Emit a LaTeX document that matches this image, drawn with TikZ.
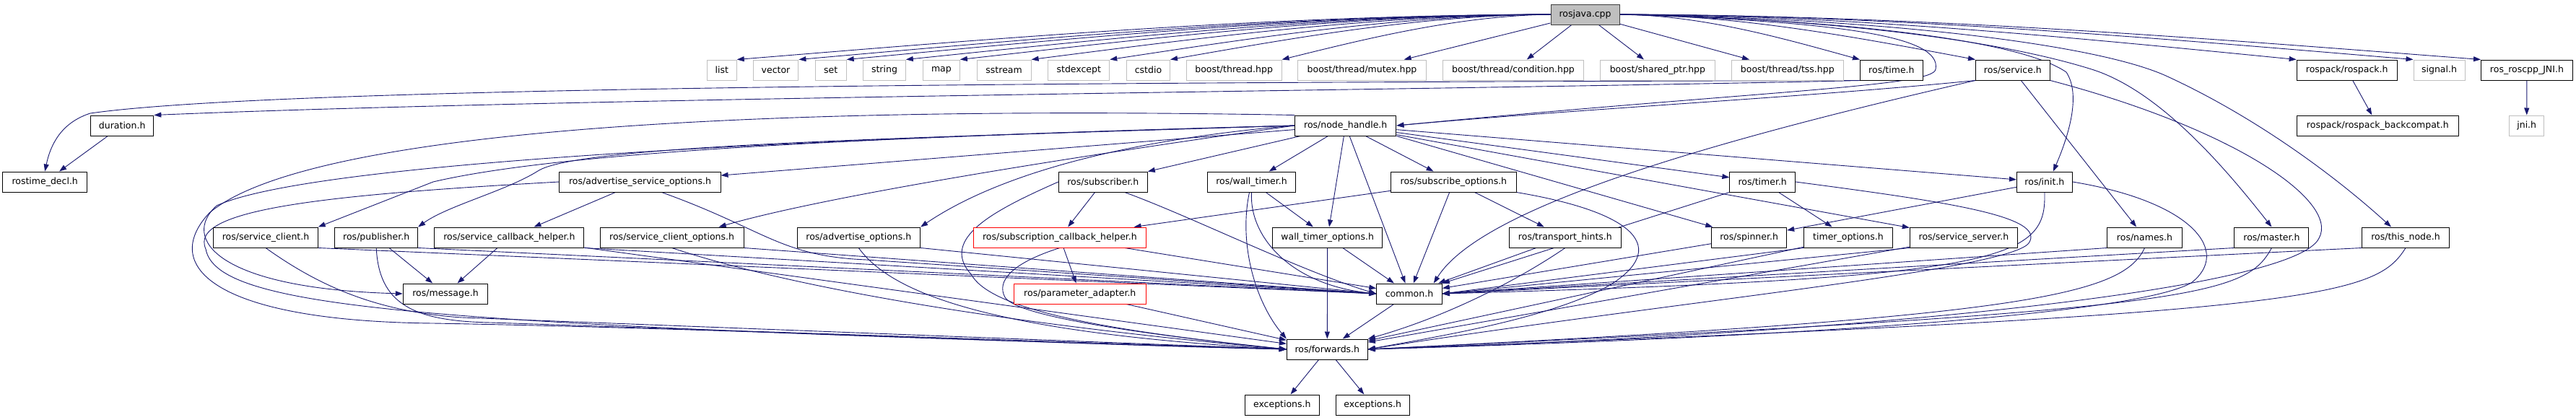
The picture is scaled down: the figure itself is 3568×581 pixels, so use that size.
\documentclass[tikz,border=0pt]{standalone}
\usepackage{fontspec}
\setmainfont{DejaVu Sans}
\usetikzlibrary{arrows.meta}
\pgfdeclarelayer{bg}
\pgfsetlayers{bg,main}
\definecolor{edgec}{HTML}{191970}
\definecolor{grayb}{HTML}{BFBFBF}
\tikzset{
  box/.style={draw=black, line width=1pt, fill=white, minimum height=28pt, inner sep=0pt,
    font=\fontsize{12.5}{15}\selectfont},
  gbox/.style={box, draw=grayb},
  rbox/.style={box, draw=red},
  e/.style={draw=edgec, line width=0.9pt, -{Triangle[length=10pt,width=7pt]}},
}
\begin{document}
\begin{tikzpicture}[x=1pt,y=-1pt]
\useasboundingbox (0,0) rectangle (3568,581);
% row 1
\node[box, fill=grayb, draw=black!75, minimum width=95pt] (R) at (2195.5,20) {rosjava.cpp};
% row 2
\node[gbox, minimum width=40.6pt] (l1) at (999.9,97) {list};
\node[gbox, minimum width=62.8pt] (l2) at (1074.5,97) {vector};
\node[gbox, minimum width=42.9pt] (l3) at (1150.7,97) {set};
\node[gbox, minimum width=58.5pt] (l4) at (1225,97) {string};
\node[gbox, minimum width=50.9pt] (l5) at (1303.9,97) {map};
\node[gbox, minimum width=75pt] (l6) at (1390.6,97) {sstream};
\node[gbox, minimum width=84.9pt] (l7) at (1494.3,97) {stdexcept};
\node[gbox, minimum width=60pt] (l8) at (1590.5,97) {cstdio};
\node[gbox, minimum width=132pt] (b1) at (1709.1,97) {boost/thread.hpp};
\node[gbox, minimum width=177.6pt] (b2) at (1886.5,97) {boost/thread/mutex.hpp};
\node[gbox, minimum width=194.8pt] (b3) at (2096,97) {boost/thread/condition.hpp};
\node[gbox, minimum width=158.4pt] (b4) at (2295.9,97) {boost/shared\_ptr.hpp};
\node[gbox, minimum width=155.3pt] (b5) at (2475.8,97) {boost/thread/tss.hpp};
\node[box, minimum width=86.9pt] (tm) at (2619.9,97) {ros/time.h};
\node[box, minimum width=102.9pt] (sv) at (2787.9,97) {ros/service.h};
\node[box, minimum width=139.1pt] (rp) at (3250.7,97) {rospack/rospack.h};
\node[gbox, minimum width=71pt] (sg) at (3378.5,97) {signal.h};
\node[box, minimum width=126.8pt] (jn) at (3499.9,97) {ros\_roscpp\_JNI.h};
% row 3
\node[box, minimum width=87.3pt] (dur) at (169.2,174) {duration.h};
\node[box, minimum width=140.4pt] (nh) at (1863.7,174) {ros/node\_handle.h};
\node[box, minimum width=224.3pt] (rpb) at (3293.3,174) {rospack/rospack\_backcompat.h};
\node[gbox, minimum width=48.2pt] (jni) at (3499.7,174) {jni.h};
% row 4
\node[box, minimum width=116.7pt] (rtd) at (62.2,252) {rostime\_decl.h};
\node[box, minimum width=223.1pt] (aso) at (886.5,252) {ros/advertise\_service\_options.h};
\node[box, minimum width=122.9pt] (sub) at (1527.8,252) {ros/subscriber.h};
\node[box, minimum width=121.7pt] (wt) at (1733.5,252) {ros/wall\_timer.h};
\node[box, minimum width=173.3pt] (so) at (2013.4,252) {ros/subscribe\_options.h};
\node[box, minimum width=90.7pt] (tmr) at (2441.2,252) {ros/timer.h};
\node[box, minimum width=76.9pt] (ini) at (2831.9,252) {ros/init.h};
% row 5
\node[box, minimum width=144.3pt] (sc) at (368,329) {ros/service\_client.h};
\node[box, minimum width=114.8pt] (pub) at (521.2,329) {ros/publisher.h};
\node[box, minimum width=207pt] (sch) at (705.4,329) {ros/service\_callback\_helper.h};
\node[box, minimum width=199pt] (sco) at (930.6,329) {ros/service\_client\_options.h};
\node[box, minimum width=170.6pt] (ao) at (1189.3,329) {ros/advertise\_options.h};
\node[rbox, minimum width=238.7pt] (sbh) at (1467.9,329) {ros/subscription\_callback\_helper.h};
\node[box, minimum width=152.3pt] (wto) at (1838.7,329) {wall\_timer\_options.h};
\node[box, minimum width=155pt] (th) at (2167.9,329) {ros/transport\_hints.h};
\node[box, minimum width=104.1pt] (sp) at (2422.6,329) {ros/spinner.h};
\node[box, minimum width=122.5pt] (tmo) at (2560,329) {timer\_options.h};
\node[box, minimum width=149.2pt] (ss) at (2719.9,329) {ros/service\_server.h};
\node[box, minimum width=103.2pt] (nm) at (2970.5,329) {ros/names.h};
\node[box, minimum width=102.9pt] (ms) at (3146.4,329) {ros/master.h};
\node[box, minimum width=120.6pt] (tn) at (3332,329) {ros/this\_node.h};
% row 6
\node[box, minimum width=117.5pt] (msg) at (617,407) {ros/message.h};
\node[rbox, minimum width=182.9pt] (pa) at (1495.8,407) {ros/parameter\_adapter.h};
\node[box, minimum width=90.6pt] (cm) at (1952,407) {common.h};
% row 7
\node[box, minimum width=112pt] (fw) at (1838.3,484) {ros/forwards.h};
% row 8
\node[box, minimum width=103.1pt] (ex1) at (1775.8,561) {exceptions.h};
\node[box, minimum width=102.3pt] (ex2) at (1901.2,561) {exceptions.h};

\begin{pgfonlayer}{bg}
% rosjava fan
\draw[e] (R.west) .. controls (1753,21) and (1359,55) .. (l1.north east);
\draw[e] (R.west) .. controls (1783,21) and (1419,55) .. (l2.north east);
\draw[e] (R.west) .. controls (1806,21) and (1465,55) .. (l3.north east);
\draw[e] (R.west) .. controls (1835,21) and (1522,55) .. (l4.north east);
\draw[e] (R.west) .. controls (1861,21) and (1575,55) .. (l5.north east);
\draw[e] (R.west) .. controls (1896,21) and (1644,55) .. (l6.north east);
\draw[e] (R.west) .. controls (1934,21) and (1720,55) .. (l7.north east);
\draw[e] (R.west) .. controls (1963,21) and (1779,55) .. (l8.north east);
\draw[e] (R.west) .. controls (2017,22) and (1887,55) .. (b1.north east);
\draw[e] (R) -- (b2);
\draw[e] (R) -- (b3);
\draw[e] (R) -- (b4);
\draw[e] (R) -- (b5);
\draw[e] (R.east) .. controls (2360,21) and (2476,55) .. (tm.north west);
\draw[e] (R.east) .. controls (2416,21) and (2588,55) .. (sv.north west);
\draw[e] (R.east) .. controls (2571,21) and (2900,55) .. (rp.north west);
\draw[e] (R.east) .. controls (2628,21) and (3013,55) .. (sg.north west);
\draw[e] (R.east) .. controls (2661,21) and (3079,55) .. (jn.north west);
\draw[e] (R.east) .. controls (2550,30) and (2690,50) .. (2681,96) .. controls (2678,120) and (2450,125) .. (nh.east);
\draw[e] (R.east) .. controls (2500,25) and (2790,50) .. (2862,100) .. controls (2885,135) and (2860,200) .. ([xshift=12pt]ini.north);
\draw[e] (R.east) .. controls (2500,25) and (2750,50) .. (2897,96) .. controls (2990,125) and (3080,230) .. (ms.north);
\draw[e] (R.east) .. controls (2600,25) and (2900,60) .. (3000,105) .. controls (3120,160) and (3230,240) .. ([xshift=-20pt]tn.north);
% time / duration
\draw[e] (tm.south west) .. controls (1600,114) and (400,118) .. (125,157) .. controls (85,170) and (70,200) .. (rtd.north);
\draw[e] (tm.south west) .. controls (2000,125) and (800,135) .. (dur.north east);
\draw[e] (dur) -- (rtd);
% service.h
\draw[e] (sv.south west) .. controls (2500,135) and (2200,150) .. (nh.east);
\draw[e] (sv.south west) .. controls (2350,200) and (2050,290) .. ([xshift=-12pt]cm.north east);
\draw[e] (sv) -- (nm);
\draw[e] (sv.south east) .. controls (3100,180) and (3240,280) .. (3212,330) .. controls (3180,400) and (2600,462) .. (fw.east);
\draw[e] (rp) -- (rpb);
\draw[e] (jn) -- (jni);
% node_handle
\draw[e] (nh) -- (aso);
\draw[e] (nh) -- (sub);
\draw[e] (nh) -- (wt);
\draw[e] (nh) -- (so);
\draw[e] (nh) -- (wto);
\draw[e] (nh) -- (cm);
\draw[e] (nh) -- (tmr);
\draw[e] (nh) -- (ini);
\draw[e] (nh.south east) -- (sp);
\draw[e] (nh) -- (ss);
\draw[e] (nh.west) .. controls (1300,188) and (800,205) .. (600,252) -- (sc.north east);
\draw[e] (nh.west) .. controls (1300,190) and (800,200) .. (745,237) .. controls (700,265) and (620,285) .. (pub.north east);
\draw[e] (nh.west) .. controls (1500,215) and (1150,270) .. ([xshift=-35pt]sco.north east);
\draw[e] (nh.west) .. controls (1600,190) and (1400,230) .. (ao.north east);
\draw[e] (nh.west) .. controls (1000,195) and (420,230) .. (300,285) .. controls (250,330) and (300,400) .. (msg.west);
\draw[e] (nh.north west) .. controls (1000,145) and (420,185) .. (290,295) .. controls (220,370) and (300,445) .. (600,448) .. controls (1000,455) and (1500,478) .. (fw.west);
% advertise_service_options
\draw[e] (aso) -- (sch);
\draw[e] ([xshift=30pt]aso.south) .. controls (1060,318) and (1080,355) .. (1200,360) -- (cm.west);
\draw[e] (aso.west) .. controls (450,270) and (260,290) .. (285,345) .. controls (300,430) and (600,450) .. (fw.west);
% service_callback_helper
\draw[e] (sch) -- (msg);
\draw[e] (sch) -- (fw);
\draw[e] (sch.south east) -- (cm.west);
% service_client_options
\draw[e] (sco.south east) -- (cm.west);
\draw[e] (sco.south) .. controls (1100,400) and (1400,450) .. (fw.west);
% advertise_options
\draw[e] (ao.south east) -- (cm.west);
\draw[e] (ao.south) .. controls (1230,400) and (1350,460) .. (fw.west);
% service_client
\draw[e] (sc.south east) -- (cm.west);
\draw[e] (sc.south) .. controls (440,395) and (520,432) .. (640,440) -- (fw.west);
% publisher
\draw[e] (pub) -- (msg);
\draw[e] (pub.south) .. controls (525,420) and (570,445) .. (680,447) -- (fw.west);
\draw[e] (pub.south east) -- (cm.west);
% subscriber
\draw[e] (sub) -- (sbh);
\draw[e] ([xshift=30pt]sub.south) .. controls (1650,300) and (1800,375) .. (cm.west);
\draw[e] (sub.west) .. controls (1380,290) and (1300,330) .. (1345,380) .. controls (1370,425) and (1500,455) .. (fw.west);
% subscription_callback_helper
\draw[e] (sbh) -- (pa);
\draw[e] (sbh.south) .. controls (1400,365) and (1380,390) .. (1392,412) .. controls (1410,440) and (1600,465) .. (fw.west);
\draw[e] (sbh) -- (cm);
\draw[e] (pa) -- (fw);
% wall_timer
\draw[e] (wt) -- (wto);
\draw[e] (wt.south) .. controls (1730,330) and (1790,395) .. (cm.west);
\draw[e] ([xshift=-3pt]wt.south) .. controls (1715,340) and (1740,420) .. (fw.north west);
\draw[e] (wto) -- (cm);
\draw[e] (wto) -- (fw);
% subscribe_options
\draw[e] (so) -- (sbh);
\draw[e] (so) -- (cm);
\draw[e] (so) -- (th);
\draw[e] (so.south east) .. controls (2270,295) and (2310,345) .. (2230,395) .. controls (2150,440) and (2000,465) .. (fw.east);
\draw[e] (th) -- (cm);
\draw[e] (th.south) .. controls (2100,390) and (2000,440) .. (fw.north east);
% timer
\draw[e] (tmr) -- (tmo);
\draw[e] (tmr) -- (cm);
\draw[e] (tmr.east) .. controls (2700,280) and (2835,300) .. (2810,337) .. controls (2780,375) and (2300,420) .. (fw.east);
% init
\draw[e] (ini) -- (sp);
\draw[e] (ini.south) .. controls (2835,360) and (2780,385) .. (cm.east);
\draw[e] (ini.east) .. controls (3040,280) and (3090,350) .. (3035,392) .. controls (2950,440) and (2400,470) .. (fw.east);
% row 5 right to common / forwards
\draw[e] (sp) -- (cm);
\draw[e] (tmo.south west) -- (cm.east);
\draw[e] (tmo) -- (fw);
\draw[e] (ss.south west) -- (cm.east);
\draw[e] (ss) -- (fw);
\draw[e] (nm.south west) -- (cm.east);
\draw[e] (nm.south) .. controls (2940,410) and (2800,440) .. (fw.east);
\draw[e] (ms.south west) -- (cm.east);
\draw[e] (ms.south) .. controls (3110,410) and (3050,430) .. (fw.east);
\draw[e] (tn.south west) -- (cm.east);
\draw[e] (tn.south) .. controls (3290,410) and (3220,435) .. (fw.east);
% bottom
\draw[e] (cm) -- (fw);
\draw[e] (fw) -- (ex1);
\draw[e] (fw) -- (ex2);
\end{pgfonlayer}
\end{tikzpicture}
\end{document}
